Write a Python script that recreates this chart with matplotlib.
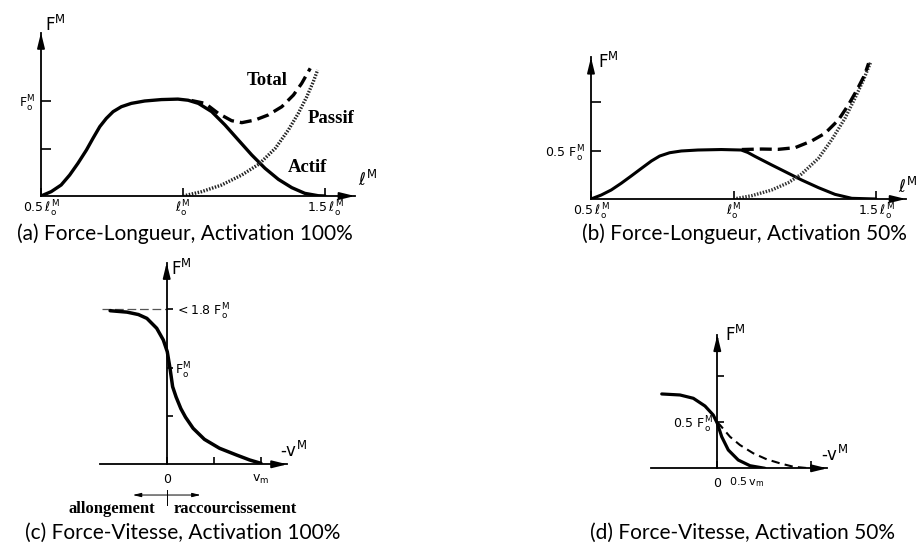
import matplotlib.pyplot as plt
import numpy as np

plt.rcParams['mathtext.fontset'] = 'dejavusans'
plt.rcParams['font.family'] = 'DejaVu Sans'

# ---- data (lengths in l_o, forces in F_o, speeds in v_m)
# (a) force-length, 100 % activation
a_act_x = [0.5, 0.536, 0.571, 0.601, 0.630, 0.660, 0.683, 0.707, 0.730, 0.754, 0.783,
           0.818, 0.865, 0.924, 0.982, 1.018, 1.054, 1.101, 1.148, 1.195, 1.242,
           1.289, 1.336, 1.383, 1.429, 1.476, 1.5]
a_act_y = [0.0, 0.046, 0.116, 0.221, 0.344, 0.484, 0.607, 0.730, 0.817, 0.888, 0.940,
           0.975, 1.0, 1.015, 1.02, 1.008, 0.975, 0.888, 0.747, 0.589, 0.432,
           0.291, 0.175, 0.088, 0.028, 0.003, 0.0]
a_pas_x = [1.0, 1.066, 1.136, 1.207, 1.268, 1.325, 1.371, 1.406, 1.436, 1.459, 1.474]
a_pas_y = [0.0, 0.046, 0.116, 0.221, 0.337, 0.502, 0.695, 0.87, 1.046, 1.204, 1.326]
a_tot_x = [1.03, 1.078, 1.124, 1.171, 1.207, 1.254, 1.30, 1.348, 1.389, 1.418, 1.448]
a_tot_y = [1.005, 0.975, 0.87, 0.793, 0.772, 0.80, 0.853, 0.94, 1.063, 1.186, 1.344]

# (b) force-length, 50 % activation
b_act_x = [0.5, 0.536, 0.571, 0.606, 0.641, 0.677, 0.712, 0.741, 0.776, 0.817, 0.875,
           0.957, 1.027, 1.05, 1.075, 1.134, 1.181, 1.239, 1.298, 1.356, 1.415, 1.5]
b_act_y = [0.0, 0.041, 0.093, 0.162, 0.237, 0.316, 0.392, 0.443, 0.477, 0.495, 0.505,
           0.510, 0.505, 0.48, 0.44, 0.351, 0.282, 0.196, 0.117, 0.048, 0.007, 0.0]
b_pas_x = [1.0, 1.064, 1.134, 1.192, 1.239, 1.298, 1.344, 1.391, 1.426, 1.456, 1.482]
b_pas_y = [0.0, 0.034, 0.093, 0.168, 0.258, 0.419, 0.608, 0.831, 1.038, 1.227, 1.416]
b_tot_x = [1.029, 1.099, 1.157, 1.216, 1.274, 1.321, 1.368, 1.403, 1.433, 1.460, 1.474]
b_tot_y = [0.510, 0.515, 0.512, 0.529, 0.598, 0.677, 0.814, 0.969, 1.124, 1.278, 1.399]

# (c) force-velocity, 100 % activation
c_x = [-0.60, -0.42, -0.30, -0.21, -0.106, -0.036, 0.006, 0.035, 0.063, 0.10, 0.15,
       0.20, 0.28, 0.40, 0.56, 0.74, 0.88, 1.0]
c_y = [1.60, 1.585, 1.56, 1.52, 1.417, 1.295, 1.173, 1.0, 0.808, 0.70, 0.58,
       0.49, 0.375, 0.26, 0.167, 0.097, 0.045, 0.01]
c_max = 1.62

# (d) force-velocity, 50 % activation
d_x = [-0.591, -0.397, -0.255, -0.131, -0.043, 0.0, 0.047, 0.117, 0.223, 0.348, 0.507]
d_y = [0.808, 0.797, 0.761, 0.677, 0.579, 0.489, 0.343, 0.199, 0.09, 0.028, 0.0]
d_dash_x = [0.0, 0.029, 0.135, 0.241, 0.383, 0.525, 0.667, 0.809, 0.951]
d_dash_y = [0.50, 0.47, 0.343, 0.253, 0.163, 0.098, 0.054, 0.017, 0.003]

captions = ['(a) Force-Longueur, Activation 100%', '(b) Force-Longueur, Activation 50%',
            '(c) Force-Vitesse, Activation 100%', '(d) Force-Vitesse, Activation 50%']

ELL = r'$\ell_\mathrm{o}^\mathrm{M}$'
FO = r'$\mathrm{F}_\mathrm{o}^\mathrm{M}$'

W, H = 918, 547
fig = plt.figure(figsize=(W / 100, H / 100), dpi=100)


def make_ax(ox, oy, sx, sy, x0val, xlim, ylim):
    # ox, oy: pixel position of (x0val, 0); sx, sy: pixels per data unit
    left = ox + (xlim[0] - x0val) * sx
    w = (xlim[1] - xlim[0]) * sx
    h = (ylim[1] - ylim[0]) * sy
    ax = fig.add_axes([left / W, 1 - oy / H, w / W, h / H])
    ax.set_xlim(xlim)
    ax.set_ylim(ylim)
    ax.patch.set_visible(False)
    for s in ['top', 'right']:
        ax.spines[s].set_visible(False)
    ax.spines['bottom'].set_position(('data', 0))
    for s in ['left', 'bottom']:
        ax.spines[s].set_linewidth(1.3)
    return ax


def arrows(ax, yx):
    head = dict(arrowstyle='-|>,head_length=0.9,head_width=0.22', color='k',
                lw=1.3, shrinkA=0, shrinkB=0)
    ax.annotate('', xy=(1, 0), xycoords=('axes fraction', 'data'),
                xytext=(0.95, 0), textcoords=('axes fraction', 'data'), arrowprops=head)
    ax.annotate('', xy=(yx, 1), xycoords=('data', 'axes fraction'),
                xytext=(yx, 0.95), textcoords=('data', 'axes fraction'), arrowprops=head)


tick_fs = 9
lab_fs = 12
word = dict(family='Liberation Serif', weight='bold', fontsize=13.5)
solid = dict(color='k', solid_capstyle='round', solid_joinstyle='round')

# ---------------- (a)
ax = make_ax(41, 196, 284, 95, 0.5, (0.5, 1.605), (0, 1.72))
ax.spines['left'].set_position(('data', 0.5))
arrows(ax, 0.5)
ax.plot(a_act_x, a_act_y, lw=2.4, **solid)
ax.plot(a_pas_x, a_pas_y, color='#222222', lw=2.4, dashes=(0.45, 0.45))
ax.plot(a_tot_x, a_tot_y, color='k', lw=2.4, dashes=(3.6, 1.8))
ax.set_xticks([0.5, 1.0, 1.5], [r'$0.5\,\ell_\mathrm{o}^\mathrm{M}$', ELL,
                                r'$1.5\,\ell_\mathrm{o}^\mathrm{M}$'])
ax.set_yticks([0.5, 1.0], ['', FO])
ax.tick_params(axis='x', direction='in', length=6, width=1.2, pad=2, labelsize=tick_fs)
ax.tick_params(axis='y', direction='in', length=7, width=1.2, pad=4, labelsize=tick_fs)
ax.text(0.515, 1.8, r'$\mathrm{F}^\mathrm{M}$', fontsize=lab_fs, va='center')
ax.text(1.615, 0.17, r'$\ell^\mathrm{M}$', fontsize=lab_fs, va='center')
ax.text(1.296, 1.22, 'Total', ha='center', va='center', **word)
ax.text(1.521, 0.82, 'Passif', ha='center', va='center', **word)
ax.text(1.437, 0.295, 'Actif', ha='center', va='center', **word)

# ---------------- (b)
ax = make_ax(591, 199, 285, 97, 0.5, (0.5, 1.605), (0, 1.46))
ax.spines['left'].set_position(('data', 0.5))
arrows(ax, 0.5)
ax.plot(b_act_x, b_act_y, lw=2.2, **solid)
ax.plot(b_pas_x, b_pas_y, color='#333333', lw=2.4, dashes=(0.45, 0.45))
ax.plot(b_tot_x, b_tot_y, color='k', lw=2.4, dashes=(3.6, 1.8))
ax.set_xticks([0.5, 1.0, 1.5], [r'$0.5\,\ell_\mathrm{o}^\mathrm{M}$', ELL,
                                r'$1.5\,\ell_\mathrm{o}^\mathrm{M}$'])
ax.set_yticks([0.5, 1.0], [r'$0.5\ \mathrm{F}_\mathrm{o}^\mathrm{M}$', ''])
ax.tick_params(axis='x', direction='in', length=6, width=1.2, pad=2, labelsize=tick_fs)
ax.tick_params(axis='y', direction='in', length=7, width=1.2, pad=4, labelsize=tick_fs)
ax.text(0.525, 1.41, r'$\mathrm{F}^\mathrm{M}$', fontsize=lab_fs, va='center')
ax.text(1.577, 0.12, r'$\ell^\mathrm{M}$', fontsize=lab_fs, va='center')

# ---------------- (c)
ax = make_ax(166.7, 464.3, 94.3, 96, 0.0, (-0.71, 1.28), (0, 2.1))
ax.spines['left'].set_visible(False)
ax.spines['right'].set_visible(True)
ax.spines['right'].set_position(('data', 0))
ax.spines['right'].set_linewidth(1.3)
arrows(ax, 0.0)
ax.plot([-0.69, 0], [c_max, c_max], color='#555555', lw=0.9, dashes=(7, 3))
ax.plot(c_x, c_y, lw=2.5, **solid)
ax.set_xticks([0.0, 0.5, 1.0], ['0', '', r'$\mathrm{v_m}$'])
ax.set_yticks([0.5, 1.0, c_max], ['', FO, r'$<1.8\ \mathrm{F}_\mathrm{o}^\mathrm{M}$'])
ax.tick_params(axis='x', direction='in', length=5, width=1.2, pad=6, labelsize=tick_fs)
ax.tick_params(axis='y', left=False, labelleft=False, right=True, labelright=True,
               direction='out', length=4, width=1.2, pad=2, labelsize=tick_fs)
ax.text(0.05, 2.04, r'$\mathrm{F}^\mathrm{M}$', fontsize=lab_fs, va='center')
ax.text(1.2, 0.14, '-v$^\mathrm{M}$', fontsize=lab_fs, va='center')
ax.annotate('', xy=(-0.36, -0.32), xytext=(0.36, -0.32), annotation_clip=False,
            arrowprops=dict(arrowstyle='<|-|>,head_length=0.5,head_width=0.12',
                            color='k', lw=0.7, shrinkA=0, shrinkB=0))
ax.plot([0, 0], [-0.27, -0.42], color='k', lw=0.7, clip_on=False)
ax.text(-0.12, -0.47, 'allongement', ha='right', va='center',
        family='Liberation Serif', weight='bold', fontsize=12)
ax.text(0.07, -0.47, 'raccourcissement', ha='left', va='center',
        family='Liberation Serif', weight='bold', fontsize=12)

# ---------------- (d)
ax = make_ax(717.3, 468.3, 94, 92, 0.0, (-0.71, 1.17), (0, 1.45))
ax.spines['left'].set_position(('data', 0))
arrows(ax, 0.0)
ax.plot(d_x, d_y, lw=2.3, **solid)
ax.plot(d_dash_x, d_dash_y, color='k', lw=1.5, dashes=(4, 2.5))
ax.set_xticks([0.0, 1.0], ['0', ''])
ax.set_yticks([0.5, 1.0], [r'$0.5\ \mathrm{F}_\mathrm{o}^\mathrm{M}$', ''])
ax.tick_params(axis='x', direction='in', length=5, width=1.2, pad=6, labelsize=tick_fs)
ax.tick_params(axis='y', direction='in', length=5, width=1.2, pad=3, labelsize=tick_fs)
ax.text(0.5, -0.15, r'$0.5\,\mathrm{v_m}$', fontsize=8, ha='right', va='center')
ax.text(0.08, 1.45, r'$\mathrm{F}^\mathrm{M}$', fontsize=lab_fs, va='center')
ax.text(1.1, 0.14, '-v$^\mathrm{M}$', fontsize=lab_fs, va='center')

# ---------------- captions
cap_pos = [(185, 234), (744, 234), (183, 533), (743, 533)]
for (px, py), txt in zip(cap_pos, captions):
    fig.text(px / W, 1 - py / H, txt, ha='center', va='center',
             family='Lato', fontsize=15)

plt.savefig('out.png', dpi=100)
